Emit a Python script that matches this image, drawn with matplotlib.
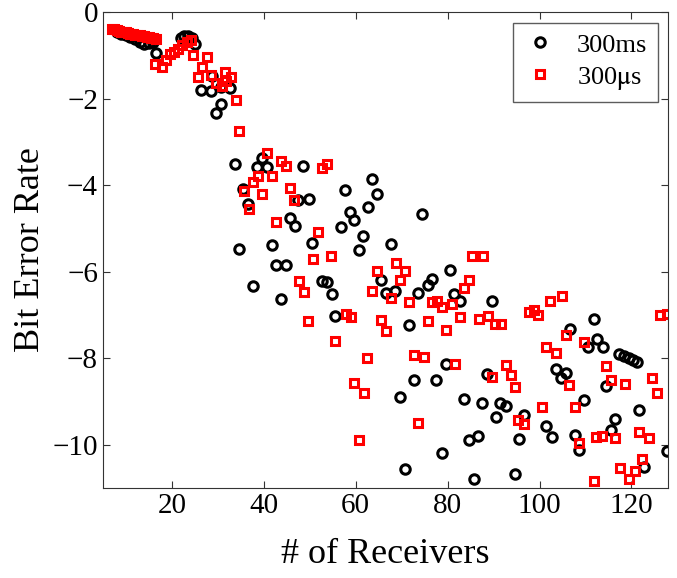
import matplotlib
matplotlib.use('Agg')
import matplotlib.pyplot as plt
import numpy as np

plt.rcParams['font.family'] = ['Liberation Serif', 'DejaVu Serif']
plt.rcParams['mathtext.fontset'] = 'stix'

# 300ms (black circles)
ms_x = [8, 9, 10, 11, 12, 13, 14, 15, 16, 16.6,
        21.9, 22.7, 23.5, 24.3, 25.0,
        26.4, 28.6, 28.7, 30.7, 32.6, 30.7, 29.6,
        33.8, 35.5, 36.6, 38.6, 39.6, 40.8, 48.5,
        34.6, 37.7, 41.7, 42.6, 44.8, 43.7,
        45.7, 46.8, 47.5, 49.9, 50.6,
        52.6, 53.8, 54.8, 55.5,
        56.7, 57.7, 58.7, 59.6, 60.7, 61.6, 62.7, 63.5, 64.7, 67.6,
        65.6, 66.5, 68.5,
        74.5, 73.6, 75.8, 76.7, 80.6, 81.4, 82.8, 89.6,
        71.6, 79.6, 88.6, 72.7, 77.5, 69.6, 83.5, 87.5, 91.5, 92.6,
        90.6, 96.6, 101.5, 86.7, 84.6, 95.5, 78.7, 70.7, 85.7, 94.6,
        111.8, 106.7, 112.5, 110.6, 113.8,
        117.4, 118.4, 119.4, 120.3, 121.2,
        103.6, 105.7, 104.6, 114.5, 109.6, 121.6,
        102.7, 116.5, 115.6, 107.7, 108.6, 127.7, 122.7]
ms_y = [-0.46, -0.5, -0.53, -0.57, -0.62, -0.68, -0.73, -0.72, -0.7, -0.95,
        -0.6, -0.55, -0.55, -0.6, -0.73,
        -1.8, -1.82, -1.47, -1.72, -1.76, -2.12, -2.33,
        -3.51, -4.1, -4.43, -3.59, -3.37, -3.59, -3.56,
        -5.48, -6.34, -5.38, -5.84, -5.84, -6.63,
        -4.75, -4.94, -4.35, -4.31, -5.33,
        -6.21, -6.25, -6.51, -7.03,
        -4.98, -4.12, -4.62, -4.81, -5.5, -5.17, -4.5, -3.87, -4.2, -5.36,
        -6.19, -6.5, -6.44,
        -4.66, -6.5, -6.32, -6.17, -5.96, -6.51, -6.67, -6.68,
        -7.24, -8.14, -8.37, -8.51, -8.51, -8.9, -8.95, -9.03, -9.03, -9.1,
        -9.36, -9.31, -9.58, -9.79, -9.9, -9.87, -10.19, -10.56, -10.8, -10.69,
        -7.09, -7.32, -7.55, -7.75, -7.75,
        -7.9, -7.95, -8.0, -8.05, -8.1,
        -8.26, -8.34, -8.47, -8.64, -8.98, -9.2,
        -9.82, -9.41, -9.66, -9.77, -10.13, -10.15, -10.51]

# 300us (red squares)
us_x = [7.0, 7.5, 8.0, 8.5, 9.0, 9.5, 10.0, 10.5, 11.0, 11.5,
        12.0, 12.5, 13.0, 13.5, 14.0, 14.5, 15.0, 15.5, 16.0, 16.5,
        16.4, 17.8,
        18.7, 19.6, 20.5, 21.4, 22.3, 23.2, 24.1,
        24.7, 27.6, 26.6, 25.6, 28.6, 31.5, 32.9, 29.6, 30.9, 31.7, 33.9,
        34.6, 40.6, 43.7, 44.8, 38.7, 41.7, 37.7, 35.7, 39.7, 45.7, 36.8, 46.6,
        52.6, 53.8, 42.6, 51.7, 50.7, 54.7,
        64.7, 68.7, 63.6, 67.6, 47.7, 48.8,
        49.7, 57.8, 58.9, 65.6, 66.7, 55.6,
        70.7, 69.7, 85.4, 87.7, 84.6, 83.5, 71.6, 76.7, 77.7, 78.8,
        81.0, 82.7, 86.8, 88.8, 90.4, 91.7, 75.7, 79.6,
        97.7, 98.8, 99.7, 102.3, 104.8, 101.5, 103.6,
        62.5, 72.7, 74.8, 81.6, 89.6, 92.6, 93.7, 94.6, 100.6, 59.6,
        61.8, 95.3, 96.6, 73.6, 60.7,
        126.3, 127.8, 105.7, 109.6, 114.5, 106.5, 115.6, 118.5, 124.5, 125.6,
        107.7, 108.6, 112.3, 113.6, 116.5, 121.6, 123.8,
        117.6, 119.5, 120.7, 122.4, 111.8]
us_y = [-0.38, -0.4, -0.42, -0.43, -0.45, -0.46, -0.47, -0.49, -0.5, -0.51,
        -0.52, -0.53, -0.54, -0.55, -0.56, -0.57, -0.58, -0.59, -0.6, -0.62,
        -1.21, -1.26,
        -1.11, -0.96, -0.92, -0.85, -0.77, -0.69, -0.65,
        -1.0, -1.04, -1.27, -1.5, -1.46, -1.38, -1.49, -1.65, -1.7, -1.6, -2.03,
        -2.75, -3.26, -3.45, -3.56, -3.8, -3.78, -3.93, -4.13, -4.2, -4.07, -4.56, -4.35,
        -3.6, -3.51, -4.85, -5.08, -5.71, -5.63,
        -5.99, -5.79, -6.45, -6.6, -6.21, -6.48,
        -7.14, -6.97, -7.06, -7.13, -7.37, -7.6,
        -5.98, -6.19, -5.63, -5.63, -6.19, -6.37, -6.7, -6.7, -6.67, -6.82,
        -6.74, -7.06, -7.09, -7.03, -7.22, -7.22, -7.15, -7.36,
        -6.94, -6.88, -7.01, -6.68, -6.57, -7.74, -7.89,
        -8.0, -7.93, -7.98, -8.14, -8.44, -8.16, -8.39, -8.67, -9.12, -8.58,
        -8.8, -9.43, -9.52, -9.5, -9.89,
        -7.01, -6.99, -7.47, -7.62, -8.18, -8.62, -8.51, -8.6, -8.47, -8.8,
        -9.13, -9.96, -9.82, -9.79, -9.85, -9.72, -9.85,
        -10.54, -10.8, -10.61, -10.34, -10.84]

fig = plt.figure(figsize=(6.77, 5.78), dpi=100)
ax = fig.add_axes([0.152, 0.156, 0.835, 0.823])

ax.plot(ms_x, ms_y, 'o', ls='none', mfc='none', mec='black', ms=6.8, mew=2.2, label='300ms')
ax.plot(us_x, us_y, 's', ls='none', mfc='none', mec='#ff0000', ms=5.6, mew=2.2, label=r'300$\mathrm{\mu}$s')

ax.set_xlim(5, 128)
ax.set_ylim(-11, 0)
ax.set_xticks([20, 40, 60, 80, 100, 120])
ax.set_yticks([0, -2, -4, -6, -8, -10])
ax.tick_params(direction='in', top=True, right=True, labelsize=21, length=5, color='#333333')
for s in ax.spines.values():
    s.set_color('#333333')
ax.set_xlabel('# of Receivers', fontsize=26, labelpad=14)
ax.set_ylabel('Bit Error Rate', fontsize=26, labelpad=4)

leg = ax.legend(loc='upper right', fontsize=19, fancybox=False, edgecolor='#333333',
                handlelength=1.2, borderaxespad=0.4, labelspacing=0.3)
leg.get_frame().set_linewidth(1.0)

fig.savefig('out.png', dpi=100, facecolor='white')
